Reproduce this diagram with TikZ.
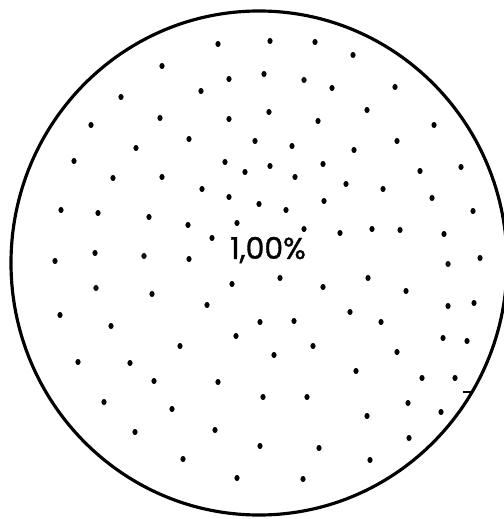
\documentclass[tikz,border=0pt]{standalone}
\usepackage{fontspec}
\newfontfamily\labelfont[FakeBold=1.2]{Poppins}

\begin{document}
\begin{tikzpicture}[x=0.02cm, y=-0.02cm, line width=1.8pt]

  % -- Frame --
  \useasboundingbox (0,0) rectangle (503,519);

  % -- Outline --
  \draw (259,263) ellipse [x radius=248, y radius=252];
  \draw[line width=0.8pt] (463,392) -- (473,392);

  % -- Scattered dots --
  \foreach \px/\py in {218/44, 270/41, 315/42, 353/55, 162/66, 229/79, 264/74, 304/80,
      332/88, 395/87, 201/91, 121/97, 367/110, 269/112, 160/118, 229/119, 318/121,
      91/125, 434/125, 189/139, 255/141, 397/141, 136/148, 292/146, 354/150, 74/161,
      225/162, 323/164, 270/166, 461/167, 245/172, 420/171, 113/178, 162/177, 295/177,
      346/184, 383/189, 202/189, 229/197, 432/198, 324/201, 259/204, 61/210, 98/213,
      149/217, 286/210, 473/211, 237/223, 188/225, 304/229, 340/233, 372/229, 400/230,
      444/234, 212/238, 95/253, 144/256, 55/261, 189/259, 480/258}
    \fill (\px,\py) circle [x radius=2.6, y radius=3];
  \foreach \px/\py in {448/264, 280/278, 368/278, 232/284, 323/287, 96/288, 152/294,
      406/291, 207/305, 448/306, 474/303, 60/315, 350/312, 260/322, 294/321, 381/322,
      111/326, 236/336, 180/346, 313/346, 443/338, 467/341, 274/355, 397/352, 78/362,
      130/363, 356/371, 422/378, 455/378, 154/381, 218/382, 263/397, 307/397, 408/403,
      104/402, 172/409, 367/416, 441/412, 135/432, 215/430, 409/438, 260/446, 319/448,
      183/459, 370/460, 237/478, 303/479}
    \fill (\px,\py) circle [x radius=2.6, y radius=3];

  % -- Percentage --
  \node[font=\labelfont\fontsize{17}{20}\selectfont, inner sep=0pt] (share) at (268,250) {1,00\%};

\end{tikzpicture}
\end{document}
